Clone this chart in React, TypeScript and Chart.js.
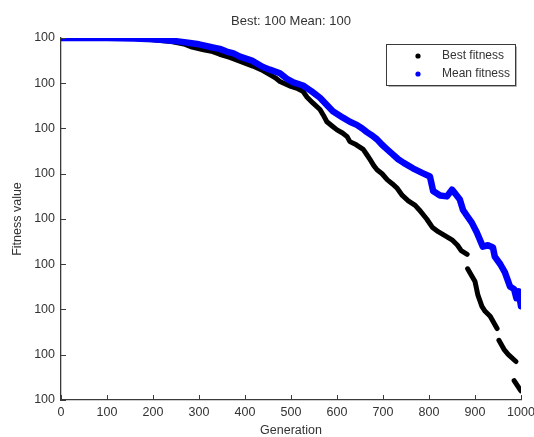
import React, { useEffect, useRef } from 'react';
import { Chart, registerables } from 'chart.js';

Chart.register(...registerables);

const titleText = 'Best: 100 Mean: 100';
const xTitle = 'Generation';
const yTitle = 'Fitness value';
const legendLabels = ['Best fitness', 'Mean fitness'];

const xMin = 0;
const xMax = 1000;
const xStep = 100;
const yMin = 99.9992;
const yMax = 100;
const yStep = 0.0001;

// Best fitness per generation (null = visible break in the marker trail)
const bestGen = [0, 60, 120, 160, 200, 240, 270, 285, 310, 330, 345, 367, 390, 417, 435, 454, 466, 476, 500, 515, 526, 535, 548, 563, 570, 578, 590, 600, 612, 622, 628, 642, 657, 665, 672, 680, 687, 698, 709, 720, 730, 742, 755, 770, 779, 795, 807, 820, 830, 850, 862, 870, 883,
  883.5, 884, 900, 906, 915, 922, 933, 948, 950, 952, 963, 972, 989, 988, 985, 998, 1000];
const bestVal = [100, 100, 100, 99.999999, 99.999996, 99.999992, 99.999986, 99.99998, 99.999974, 99.99997, 99.999964, 99.999957, 99.999948, 99.999938, 99.99993, 99.999919, 99.999912, 99.999904, 99.999893, 99.999888, 99.999882, 99.999869, 99.999856, 99.999842, 99.99983, 99.999815, 99.999805, 99.999797, 99.99979, 99.999782, 99.999771, 99.999764, 99.999754, 99.999742, 99.999731, 99.999718, 99.999709, 99.9997, 99.999687, 99.999678, 99.999669, 99.999652, 99.99964, 99.99963, 99.99962, 99.9996, 99.999582, 99.999572, 99.999566, 99.999554, 99.999542, 99.99953, 99.999522,
  null, 99.99949, 99.999462, 99.999433, 99.999407, 99.999396, 99.999385, 99.999358, null, 99.999332, 99.999312, 99.999301, 99.999285, null, 99.999243, 99.999223, 99.99922];

// Mean fitness per generation
const meanGen = [0, 100, 160, 200, 230, 259, 280, 300, 330, 345, 360, 375, 389, 415, 439, 454, 476, 491, 505, 526, 545, 563, 578, 591, 613, 628, 643, 655, 665, 677, 687, 698, 709, 720, 733, 745, 765, 785, 802, 809, 824, 839, 850, 858, 867, 874, 884, 893, 904, 917, 928, 939, 943, 955, 965, 976, 985, 990, 995, 1000];
const meanVal = [100, 100, 99.999999, 99.999997, 99.999995, 99.999992, 99.999989, 99.999986, 99.999979, 99.999976, 99.99997, 99.999966, 99.999959, 99.99995, 99.999936, 99.99993, 99.999922, 99.99991, 99.999902, 99.999895, 99.999882, 99.999868, 99.999852, 99.999838, 99.999824, 99.999815, 99.999808, 99.9998, 99.999792, 99.999784, 99.999776, 99.999764, 99.999754, 99.999744, 99.999732, 99.999724, 99.999712, 99.999702, 99.999694, 99.999662, 99.999652, 99.99965, 99.999665, 99.999655, 99.999643, 99.99962, 99.999605, 99.999592, 99.99957, 99.999539, 99.999542, 99.999537, 99.999517, 99.9995, 99.999482, 99.999451, 99.999445, 99.999425, 99.99944, 99.999407];

const FONT = '"Liberation Sans", Arial, Helvetica, sans-serif';
const TEXT = '#333333';
const AXIS = '#3a3a3a';
const BEST_COLOR = '#000000';
const MEAN_COLOR = '#0000ff';

const overlay = {
  id: 'overlay',
  afterDraw(chart: any) {
    const { ctx, chartArea, scales } = chart;
    const xs = scales.x;
    const ys = scales.y;
    ctx.save();
    // inward tick marks
    ctx.strokeStyle = AXIS;
    ctx.lineWidth = 1;
    xs.ticks.forEach((t: any) => {
      const px = Math.round(xs.getPixelForValue(t.value)) + 0.5;
      ctx.beginPath();
      ctx.moveTo(px, chartArea.bottom);
      ctx.lineTo(px, chartArea.bottom - 5);
      ctx.stroke();
    });
    ys.ticks.forEach((t: any) => {
      const py = Math.round(ys.getPixelForValue(t.value)) + 0.5;
      ctx.beginPath();
      ctx.moveTo(chartArea.left, py);
      ctx.lineTo(chartArea.left + 5, py);
      ctx.stroke();
    });
    // title
    ctx.fillStyle = TEXT;
    ctx.font = `13px ${FONT}`;
    ctx.textAlign = 'center';
    ctx.textBaseline = 'middle';
    ctx.fillText(titleText, (chartArea.left + chartArea.right) / 2, 21);
    // legend box
    const bx = chartArea.right - 134.5;
    const by = chartArea.top + 6.5;
    const bw = 129;
    const bh = 41;
    ctx.fillStyle = '#ffffff';
    ctx.fillRect(bx, by, bw, bh);
    ctx.strokeStyle = '#b0b0b0';
    ctx.beginPath();
    ctx.moveTo(bx + 2, by + bh + 1);
    ctx.lineTo(bx + bw + 1, by + bh + 1);
    ctx.lineTo(bx + bw + 1, by + 2);
    ctx.stroke();
    ctx.strokeStyle = AXIS;
    ctx.strokeRect(bx, by, bw, bh);
    const colors = [BEST_COLOR, MEAN_COLOR];
    legendLabels.forEach((lbl, i) => {
      const cy = by + 11.5 + i * 18;
      ctx.fillStyle = colors[i];
      ctx.beginPath();
      ctx.arc(bx + 31.5, cy, 2.6, 0, Math.PI * 2);
      ctx.fill();
      ctx.fillStyle = TEXT;
      ctx.font = `12px ${FONT}`;
      ctx.textAlign = 'left';
      ctx.textBaseline = 'middle';
      ctx.fillText(lbl, bx + 55.5, cy);
    });
    ctx.restore();
  },
};

function toPoints(xs: number[], ys: (number | null)[]) {
  return xs.map((x, i) => ({ x, y: ys[i] }));
}

export default function App() {
  const ref = useRef<HTMLCanvasElement | null>(null);
  useEffect(() => {
    document.body.style.margin = '0';
    const canvas = ref.current;
    if (!canvas) return;
    const chart = new Chart(canvas, {
      type: 'line',
      data: {
        datasets: [
          {
            label: legendLabels[0],
            data: toPoints(bestGen, bestVal) as any,
            borderColor: BEST_COLOR,
            backgroundColor: BEST_COLOR,
            borderWidth: 5,
            pointRadius: 0,
            borderCapStyle: 'round',
            borderJoinStyle: 'round',
            spanGaps: false,
            tension: 0,
            order: 1,
          },
          {
            label: legendLabels[1],
            data: toPoints(meanGen, meanVal) as any,
            borderColor: MEAN_COLOR,
            backgroundColor: MEAN_COLOR,
            borderWidth: 6.5,
            pointRadius: 0,
            borderCapStyle: 'round',
            borderJoinStyle: 'round',
            tension: 0,
            order: 0,
          },
        ],
      },
      options: {
        animation: false,
        responsive: false,
        events: [],
        layout: { padding: { top: 38, right: 13, left: 0, bottom: 0 } },
        plugins: {
          legend: { display: false },
          tooltip: { enabled: false },
          title: { display: false },
        },
        scales: {
          x: {
            type: 'linear',
            min: xMin,
            max: xMax,
            grid: { display: false, drawTicks: false },
            border: { display: true, color: AXIS, width: 1.3 },
            ticks: {
              stepSize: xStep,
              color: TEXT,
              font: { family: FONT, size: 12.5 },
              padding: 5,
              maxRotation: 0,
              autoSkip: false,
              callback: (v: any) => String(v),
            },
            title: {
              display: true,
              text: xTitle,
              color: TEXT,
              font: { family: FONT, size: 12.5 },
              padding: { top: 0, bottom: -1 },
            },
            afterFit(scale: any) {
              scale.height = 37;
              scale.paddingLeft = 0;
              scale.paddingRight = 0;
            },
          },
          y: {
            type: 'linear',
            min: yMin,
            max: yMax,
            grid: { display: false, drawTicks: false },
            border: { display: true, color: AXIS, width: 1.3 },
            ticks: {
              stepSize: yStep,
              color: TEXT,
              font: { family: FONT, size: 12.5 },
              padding: 6,
              autoSkip: false,
              callback: (v: any) => Number(v).toFixed(0),
            },
            title: {
              display: true,
              text: yTitle,
              color: TEXT,
              font: { family: FONT, size: 12.5 },
              padding: { top: 10.5, bottom: 0 },
            },
            afterFit(scale: any) {
              scale.width = 61;
              scale.paddingTop = 0;
              scale.paddingBottom = 0;
            },
          },
        },
      },
      plugins: [overlay],
    });
    return () => chart.destroy();
  }, []);
  return (
    <div style={{ width: 534, height: 437, position: 'relative' }}>
      <canvas ref={ref} width={534} height={437} style={{ display: 'block', width: 534, height: 437 }} />
    </div>
  );
}
